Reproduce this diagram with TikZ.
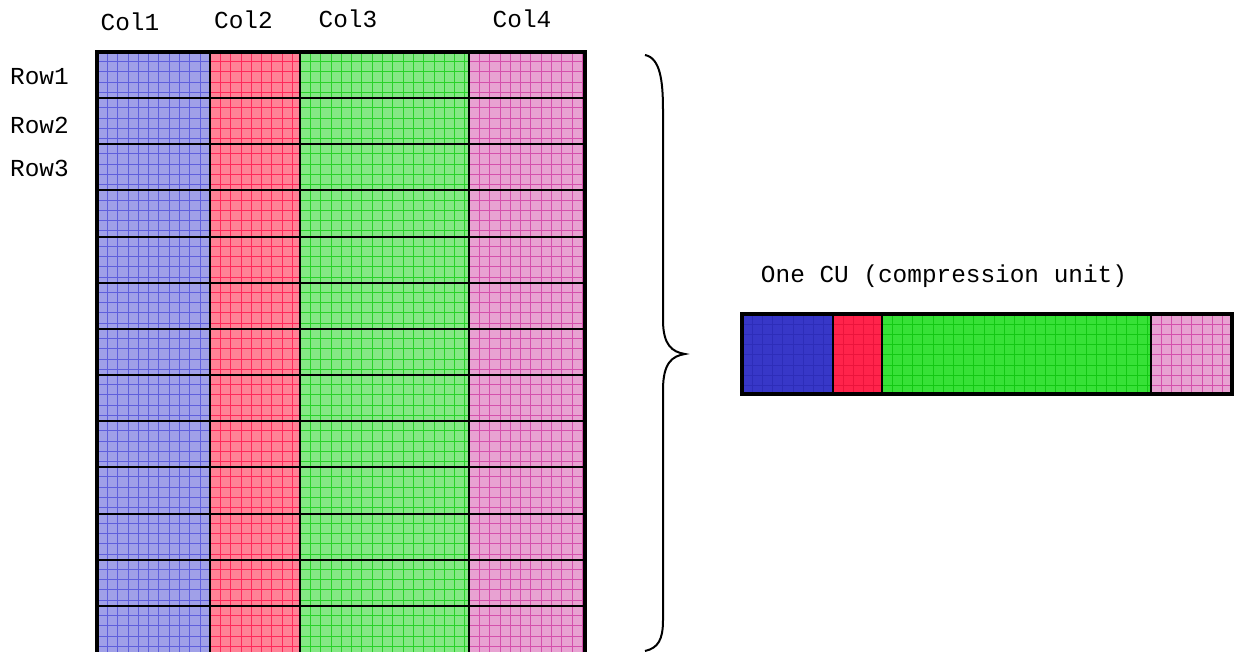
\documentclass[tikz,border=0pt]{standalone}
\usepackage{fontspec}
\setmonofont{Liberation Mono}
\definecolor{bfill}{RGB}{160,160,232}
\definecolor{bline}{RGB}{95,95,220}
\definecolor{rfill}{RGB}{255,130,150}
\definecolor{rline}{RGB}{255,40,90}
\definecolor{gfill}{RGB}{132,232,132}
\definecolor{gline}{RGB}{40,210,40}
\definecolor{pfill}{RGB}{232,162,210}
\definecolor{pline}{RGB}{212,80,172}
\definecolor{cbfill}{RGB}{55,55,200}
\definecolor{cbline}{RGB}{45,45,185}
\definecolor{crfill}{RGB}{255,35,75}
\definecolor{crline}{RGB}{235,20,60}
\definecolor{cgfill}{RGB}{55,225,55}
\definecolor{cgline}{RGB}{20,200,20}
\begin{document}
\begin{tikzpicture}[x=1pt,y=-1pt,
  lbl/.style={font=\ttfamily\fontsize{24.4}{28}\selectfont, inner sep=0pt},
  gridline/.style={line width=0.8pt},
  cellline/.style={line width=2pt, black},
  frame/.style={line width=4pt, black}]
\useasboundingbox (0,0) rectangle (1234,652);
% main table columns
\foreach \xl/\xr/\fc/\lc in {97/210/bfill/bline, 210/300/rfill/rline, 300/469/gfill/gline, 469/585/pfill/pline}{
  \fill[\fc] (\xl,52) rectangle (\xr,660);
  \begin{scope}
    \clip (\xl,52) rectangle (\xr,660);
    \foreach \i in {1,...,17} \draw[\lc, gridline] ({\xl+10.3*\i},52) -- ({\xl+10.3*\i},660);
    \foreach \r in {0,...,12} \foreach \j in {0,...,3}
      \draw[\lc, gridline] (\xl,{52+46.15*\r+9.5+10.3*\j}) -- (\xr,{52+46.15*\r+9.5+10.3*\j});
  \end{scope}
}
\foreach \r in {1,...,12} \draw[cellline] (97,{52+46.15*\r}) -- (585,{52+46.15*\r});
\foreach \x in {210,300,469} \draw[cellline] (\x,52) -- (\x,660);
\draw[frame] (97,660) -- (97,52) -- (585,52) -- (585,660);
% labels
\node[lbl] (c1) at (130,22) {Col1};
\node[lbl] (c2) at (243.5,20) {Col2};
\node[lbl] (c3) at (348,19) {Col3};
\node[lbl] (c4) at (522,19) {Col4};
\node[lbl] (r1) at (39.5,77) {Row1};
\node[lbl] (r2) at (39.5,125) {Row2};
\node[lbl] (r3) at (39.5,168) {Row3};
% brace
\draw[line width=2pt] (645,55) .. controls (660,58) and (663,80) .. (663,110) -- (663,320)
  .. controls (663,345) and (672,352) .. (685,354)
  .. controls (672,356) and (663,363) .. (663,390) -- (663,620)
  .. controls (663,640) and (658,648) .. (645,651);
% compression unit
\node[lbl] (cu) at (944,276) {One CU (compression unit)};
\foreach \xl/\xr/\fc/\lc in {742/833/cbfill/cbline, 833/882/crfill/crline, 882/1151/cgfill/cgline, 1151/1232/pfill/pline}{
  \fill[\fc] (\xl,314) rectangle (\xr,394);
  \begin{scope}
    \clip (\xl,314) rectangle (\xr,394);
    \foreach \i in {1,...,27} \draw[\lc, gridline] ({\xl+10.2*\i},314) -- ({\xl+10.2*\i},394);
    \foreach \j in {1,...,7} \draw[\lc, gridline] (\xl,{314+10.2*\j}) -- (\xr,{314+10.2*\j});
  \end{scope}
}
\foreach \x in {833,882,1151} \draw[cellline] (\x,314) -- (\x,394);
\draw[frame] (742,314) rectangle (1232,394);
\end{tikzpicture}
\end{document}
